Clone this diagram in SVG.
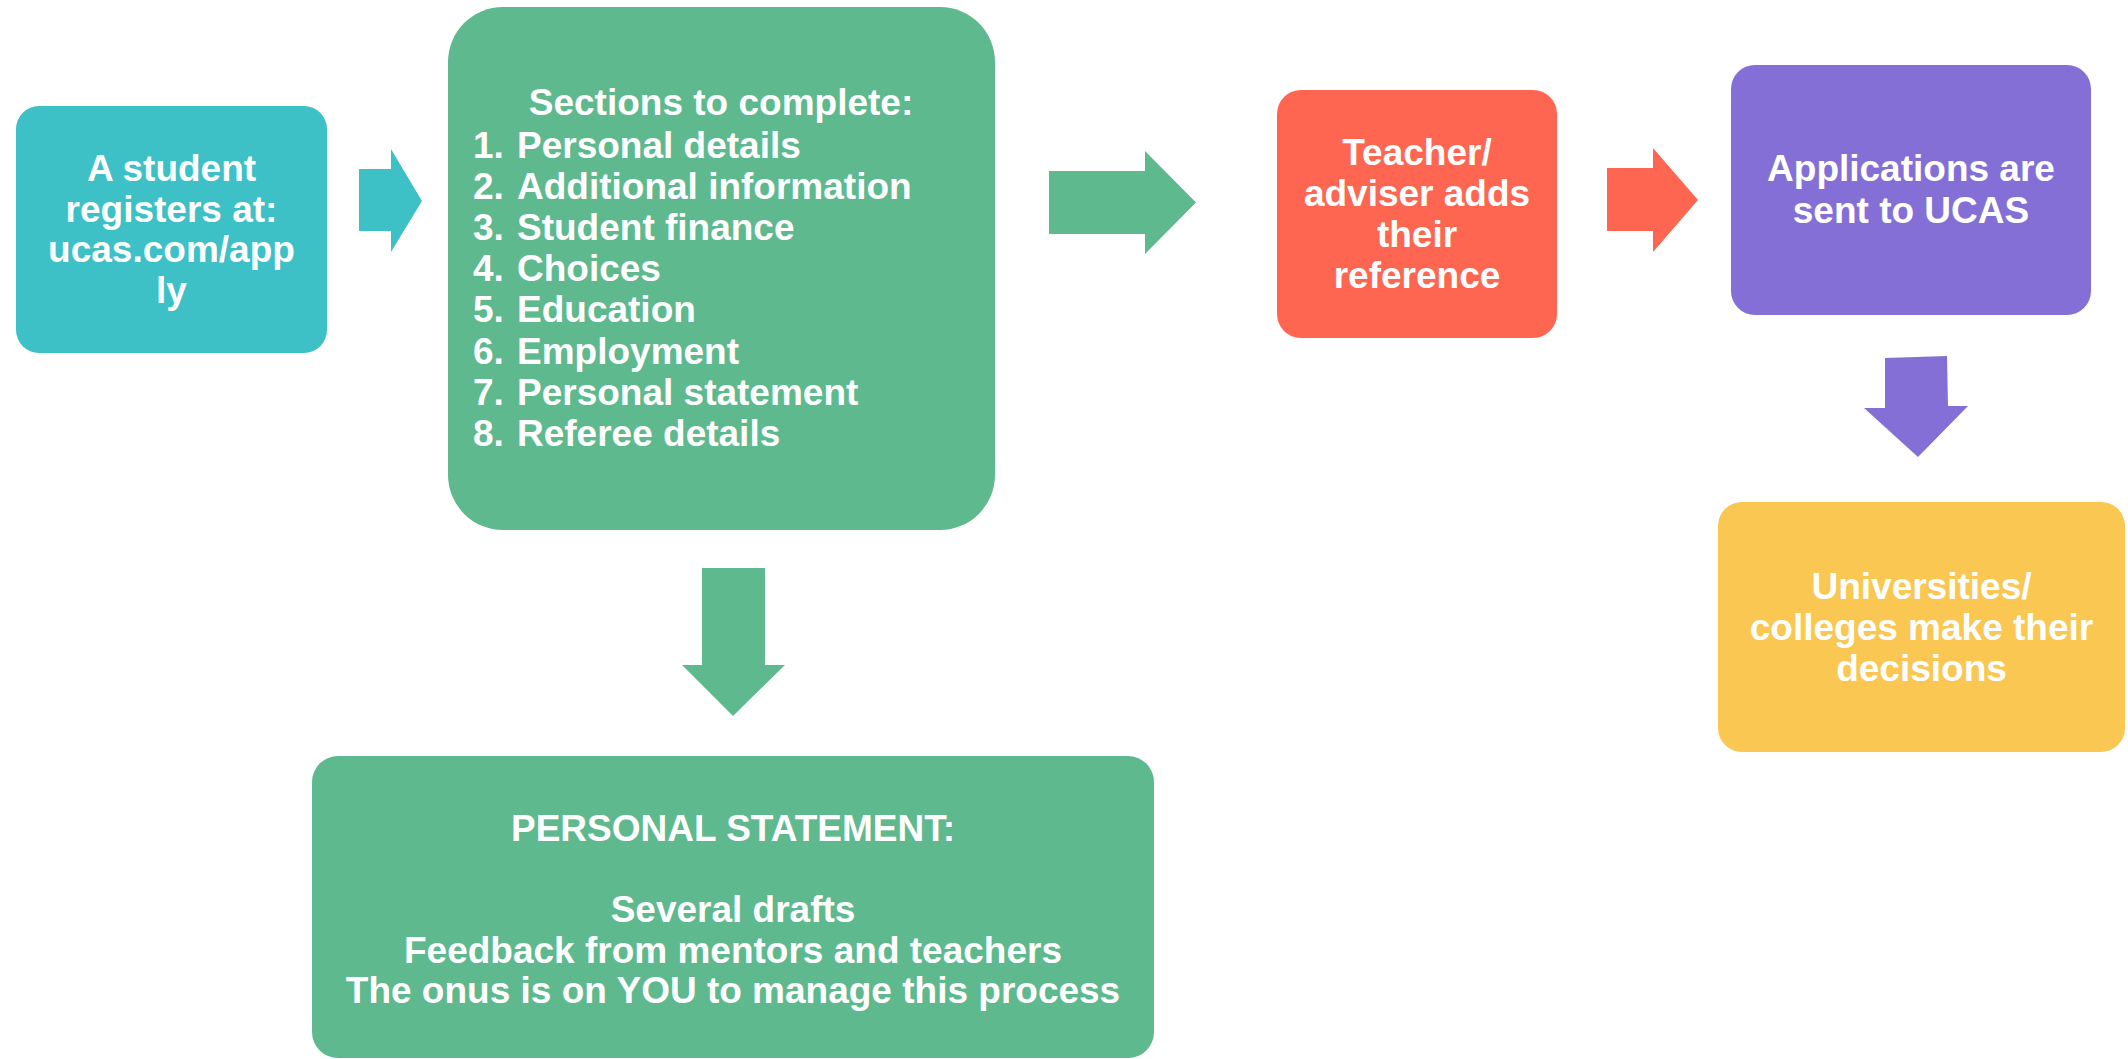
<svg xmlns="http://www.w3.org/2000/svg" width="2128" height="1059" viewBox="0 0 2128 1059">
<style>
text{font-family:"Liberation Sans",Arial,sans-serif;font-weight:bold;font-size:37px;fill:#ffffff}
.c{text-anchor:middle}
.teal{fill:#3ec0c7}.green{fill:#5eb98e}.coral{fill:#ff6651}.purple{fill:#836fd6}.yellow{fill:#f9c752}
</style>
<rect width="2128" height="1059" fill="#ffffff"/>
<g id="connectors">
<polygon class="teal" points="359,169 391,169 391,149 422,201 391,252 391,231 359,231"/>
<polygon class="green" points="1049,171 1145,171 1145,151 1196,202.5 1145,254 1145,234 1049,234"/>
<polygon class="coral" points="1607,168 1653,168 1653,148 1698,200 1653,252 1653,231 1607,231"/>
<polygon class="purple" points="1885,358 1947,356 1948,406 1968,406 1918,457 1864,408 1885,408"/>
<polygon class="green" points="702,568 765,568 765,665 785,665 733,716 682,665 702,665"/>
</g>
<g id="node-register">
<rect class="teal" x="16" y="106" width="311" height="247" rx="23"/>
<text class="c" x="171.5" y="181">A student</text>
<text class="c" x="171.5" y="221.5">registers at:</text>
<text class="c" x="171.5" y="262">ucas.com/app</text>
<text class="c" x="171.5" y="302.5">ly</text>
</g>
<g id="node-sections">
<rect class="green" x="448" y="7" width="547" height="523" rx="55"/>
<text class="c" x="721" y="115">Sections to complete:</text>
<text y="157.5"><tspan x="473">1.</tspan><tspan x="517">Personal details</tspan></text>
<text y="198.7"><tspan x="473">2.</tspan><tspan x="517">Additional information</tspan></text>
<text y="239.9"><tspan x="473">3.</tspan><tspan x="517">Student finance</tspan></text>
<text y="281.1"><tspan x="473">4.</tspan><tspan x="517">Choices</tspan></text>
<text y="322.3"><tspan x="473">5.</tspan><tspan x="517">Education</tspan></text>
<text y="363.5"><tspan x="473">6.</tspan><tspan x="517">Employment</tspan></text>
<text y="404.7"><tspan x="473">7.</tspan><tspan x="517">Personal statement</tspan></text>
<text y="445.9"><tspan x="473">8.</tspan><tspan x="517">Referee details</tspan></text>
</g>
<g id="node-reference">
<rect class="coral" x="1277" y="90" width="280" height="248" rx="24"/>
<text class="c" x="1417" y="165">Teacher/</text>
<text class="c" x="1417" y="206">adviser adds</text>
<text class="c" x="1417" y="247">their</text>
<text class="c" x="1417" y="288">reference</text>
</g>
<g id="node-ucas">
<rect class="purple" x="1731" y="65" width="360" height="250" rx="24"/>
<text class="c" x="1911" y="181">Applications are</text>
<text class="c" x="1911" y="223">sent to UCAS</text>
</g>
<g id="node-decisions">
<rect class="yellow" x="1718" y="502" width="407" height="250" rx="24"/>
<text class="c" x="1921.5" y="599">Universities/</text>
<text class="c" x="1921.5" y="640">colleges make their</text>
<text class="c" x="1921.5" y="681">decisions</text>
</g>
<g id="node-statement">
<rect class="green" x="312" y="756" width="842" height="302" rx="26"/>
<text class="c" x="733" y="841">PERSONAL STATEMENT:</text>
<text class="c" x="733" y="922">Several drafts</text>
<text class="c" x="733" y="962.5">Feedback from mentors and teachers</text>
<text class="c" x="733" y="1003">The onus is on YOU to manage this process</text>
</g>
</svg>
